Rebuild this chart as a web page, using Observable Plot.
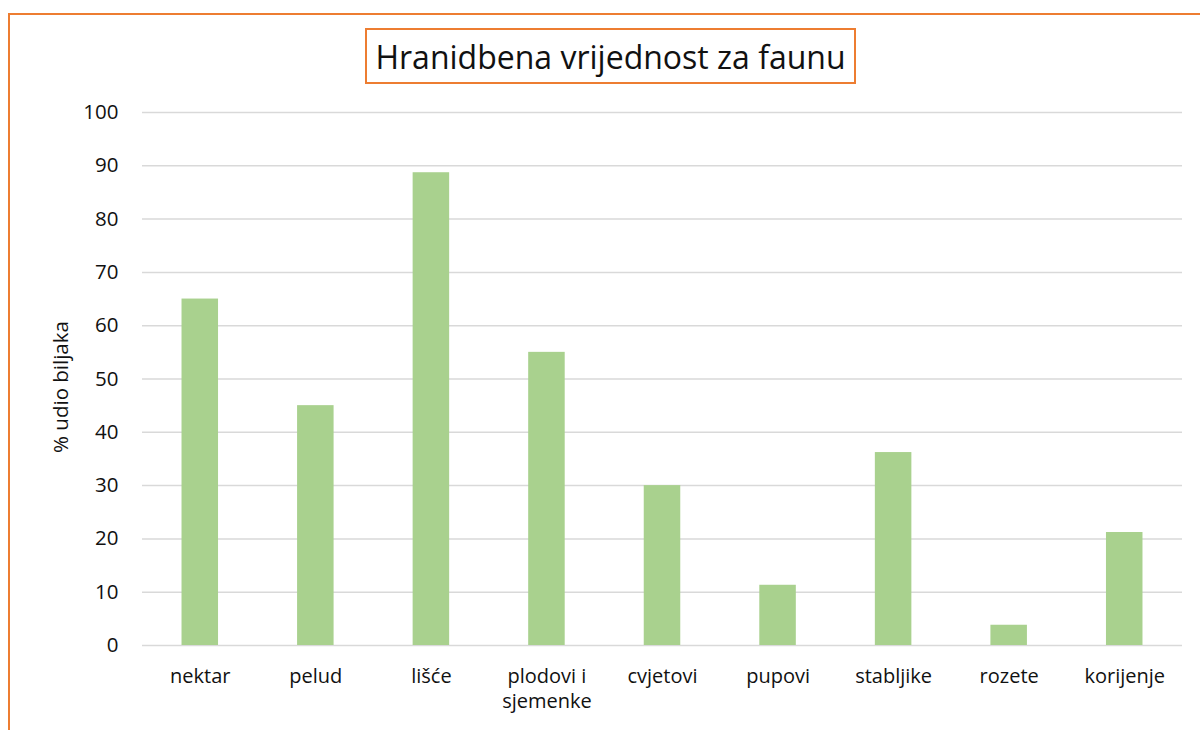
<!DOCTYPE html>
<html>
<head>
<meta charset="utf-8">
<script src="https://cdn.jsdelivr.net/npm/d3@7"></script>
<script src="https://cdn.jsdelivr.net/npm/@observablehq/plot@0.6"></script>
<style>
  html, body { margin: 0; padding: 0; background: #fff; }
  body { width: 1200px; height: 730px; position: relative; overflow: hidden; font-family: "Open Sans", sans-serif; }
  #frame { position: absolute; left: 8px; top: 13px; width: 1300px; height: 800px; border: 2px solid #ed7d31; box-sizing: border-box; }
  #title { position: absolute; left: 365px; top: 28px; width: 491px; height: 56px; border: 2px solid #ed7d31; box-sizing: border-box;
           display: flex; align-items: center; justify-content: center; font-size: 32px; color: #111; background: #fff; }
  #chart { position: absolute; left: 0; top: 0; }
  #ylabel { position: absolute; left: 60px; top: 387px; transform: translate(-50%, -50%) rotate(-90deg); font-size: 20.5px; color: #111; white-space: nowrap; }
</style>
</head>
<body>
<div id="frame"></div>
<div id="chart"></div>
<div id="title">Hranidbena vrijednost za faunu</div>
<div id="ylabel">% udio biljaka</div>
<script>
const categories = ["nektar", "pelud", "lišće", "plodovi i\nsjemenke", "cvjetovi", "pupovi", "stabljike", "rozete", "korijenje"];
const values = [65, 45, 88.7, 55, 30, 11.3, 36.2, 3.8, 21.2];
const yTicks = [0, 10, 20, 30, 40, 50, 60, 70, 80, 90, 100];

const data = categories.map((c, i) => ({ cat: c, value: values[i] }));

const chart = Plot.plot({
  width: 1200,
  height: 730,
  marginTop: 112,
  marginBottom: 85,
  marginLeft: 142,
  marginRight: 18,
  style: { fontFamily: "'Open Sans', sans-serif", fontSize: "20px", color: "#111", background: "transparent" },
  x: { domain: categories, paddingInner: 0.684, paddingOuter: 0.342, round: false, label: null },
  y: { domain: [0, 100], label: null },
  marks: [
    Plot.ruleY(yTicks, { stroke: "#d9d9d9", strokeWidth: 1.5 }),
    Plot.barY(data, { x: "cat", y: "value", fill: "#a9d18e" }),
    Plot.axisX({ tickSize: 0, tickPadding: 20, fontSize: 20, lineHeight: 1.25, label: null, fill: "#111" }),
    Plot.axisY({ ticks: yTicks, tickSize: 0, tickPadding: 24, fontSize: 20.5, label: null, fill: "#111" })
  ]
});
document.getElementById("chart").appendChild(chart);
</script>
</body>
</html>
